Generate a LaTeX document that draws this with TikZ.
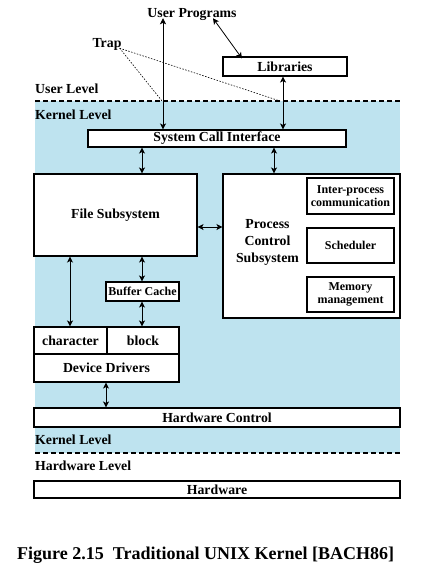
\documentclass[tikz,border=0pt]{standalone}
\usepackage{fontspec}
\setmainfont{Liberation Serif}
\usetikzlibrary{arrows.meta}
\definecolor{kernelblue}{RGB}{190,227,239}
\begin{document}
\begin{tikzpicture}[x=1pt,y=-1pt,
  box/.style={draw, line width=1.1pt, fill=white, inner sep=0pt, font=\fontsize{13.8}{17}\selectfont\bfseries, align=center},
  sbox/.style={box, font=\fontsize{12}{13}\selectfont\bfseries},
  lbl/.style={inner sep=0pt, font=\fontsize{13.8}{17}\selectfont\bfseries},
  arr/.style={{Stealth[length=6pt,width=6pt,inset=1.5pt]}-{Stealth[length=6pt,width=6pt,inset=1.5pt]}, line width=0.8pt},
  level/.style={line width=1.4pt, dash pattern=on 5pt off 3pt},
  trapline/.style={line width=0.6pt, dash pattern=on 1.5pt off 1.5pt}]
\useasboundingbox (0,0) rectangle (432,573);
\fill[kernelblue] (35,101) rectangle (400,453);
\draw[level] (35,101) -- (400,101);
\draw[level] (35,453) -- (400,453);

% labels
\node[lbl] (up) at (192,15) {User Programs};
\node[lbl] (trap) at (107,44) {Trap};
\node[lbl, anchor=west] (ul) at (35,89) {User Level};
\node[lbl, anchor=west] (kl1) at (35,115) {Kernel Level};
\node[lbl, anchor=west] (kl2) at (35,440) {Kernel Level};
\node[lbl, anchor=west] (hl) at (35,466) {Hardware Level};

% boxes
\node[box, minimum width=124pt, minimum height=19pt] (lib) at (285,66.5) {Libraries};
\node[box, minimum width=258pt, minimum height=17pt] (sci) at (217,138.5) {System Call Interface};
\node[box, minimum width=163pt, minimum height=82pt] (fs) at (115.5,215) {File Subsystem};
\node[box, minimum width=177pt, minimum height=144pt] (pcs) at (311.5,246) {};
\node[lbl, align=center] (pcst) at (267.5,242.5) {Process\\Control\\Subsystem};
\node[sbox, minimum width=87pt, minimum height=36pt] (ipc) at (350.5,196) {Inter-process\\communication};
\node[sbox, minimum width=87pt, minimum height=35pt] (sch) at (350.5,245.5) {Scheduler};
\node[sbox, minimum width=87pt, minimum height=35pt] (mem) at (350.5,294.5) {Memory\\management};
\node[sbox, minimum width=73pt, minimum height=19pt] (bc) at (142.5,291.5) {Buffer Cache};
\node[box, minimum width=73pt, minimum height=27pt] (chr) at (70.5,340.5) {character};
\node[box, minimum width=72pt, minimum height=27pt] (blk) at (143,340.5) {block};
\node[box, minimum width=145pt, minimum height=28pt] (dd) at (106.5,368) {Device Drivers};
\node[box, minimum width=366pt, minimum height=19pt] (hc) at (217,417.5) {Hardware Control};
\node[box, minimum width=366pt, minimum height=17pt] (hw) at (217,489.5) {Hardware};

\node[inner sep=0pt, font=\fontsize{18}{20}\selectfont\bfseries, anchor=west] (cap) at (17,555) {Figure 2.15\ \ Traditional UNIX Kernel [BACH86]};

% column coordinates
\coordinate (c70) at (70,0);
\coordinate (c106) at (106,0);
\coordinate (c142) at (142,0);
\coordinate (c163) at (163,0);
\coordinate (c213) at (213,0);
\coordinate (c242) at (242,0);
\coordinate (c274) at (274,0);
\coordinate (c283) at (283,0);
\coordinate (r227) at (0,227);

% connectors
\draw[arr] ([yshift=3pt]up.south -| c163) -- (sci.north -| c163);
\draw[arr] ([yshift=3pt]up.south -| c213) -- ([yshift=-2pt]lib.north -| c242);
\draw[arr] (lib.south -| c283) -- (sci.north -| c283);
\draw[arr] (sci.south -| c142) -- (fs.north -| c142);
\draw[arr] (sci.south -| c274) -- (pcs.north -| c274);
\draw[arr] (fs.east |- r227) -- (pcs.west |- r227);
\draw[arr] (fs.south -| c142) -- (bc.north -| c142);
\draw[arr] (bc.south -| c142) -- (blk.north -| c142);
\draw[arr] (fs.south -| c70) -- (chr.north -| c70);
\draw[arr] (dd.south -| c106) -- (hc.north -| c106);

% trap lines
\coordinate (t1) at (162,101);
\coordinate (t2) at (280,101);
\draw[trapline] ([xshift=-2pt,yshift=2pt]trap.south east) -- (t1);
\draw[trapline] ([xshift=-2pt,yshift=2pt]trap.south east) -- (t2);
\end{tikzpicture}
\end{document}
